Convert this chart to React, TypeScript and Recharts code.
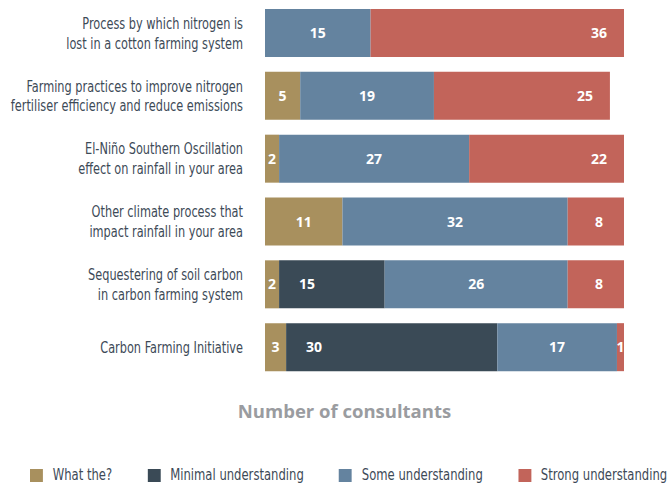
import React from 'react';
import { BarChart, Bar, XAxis, YAxis, Legend, LabelList } from 'recharts';

const categories = [
  'Process by which nitrogen is\nlost in a cotton farming system',
  'Farming practices to improve nitrogen\nfertiliser efficiency and reduce emissions',
  'El-Niño Southern Oscillation\neffect on rainfall in your area',
  'Other climate process that\nimpact rainfall in your area',
  'Sequestering of soil carbon\nin carbon farming system',
  'Carbon Farming Initiative',
];

const whatThe = [0, 5, 2, 11, 2, 3];
const minimal = [0, 0, 0, 0, 15, 30];
const some = [15, 19, 27, 32, 26, 17];
const strong = [36, 25, 22, 8, 8, 1];

const SERIES = [
  { key: 'whatThe', name: 'What the?', color: '#a8905e', values: whatThe },
  { key: 'minimal', name: 'Minimal understanding', color: '#3a4a56', values: minimal },
  { key: 'some', name: 'Some understanding', color: '#64839f', values: some },
  { key: 'strong', name: 'Strong understanding', color: '#c2645a', values: strong },
];

const data = categories.map((c, i) => ({
  category: c,
  whatThe: whatThe[i],
  minimal: minimal[i],
  some: some[i],
  strong: strong[i],
}));

// the source uses a very condensed face; squeeze DejaVu Condensed a bit more
const NARROW = "'DejaVu Sans Condensed', 'DejaVu Sans', sans-serif";
const TEXT = '#3d4a57';
const SQUEEZE = 0.84;

const CategoryTick = (props: any) => {
  const { x, y, payload } = props;
  const lines = String(payload.value).split('\n');
  const start = -((lines.length - 1) * 20) / 2;
  return (
    <g transform={`translate(${x},${y}) scale(${SQUEEZE},1)`}>
      <text x={0} y={0} textAnchor="end" fill={TEXT} fontFamily={NARROW} fontSize={15}>
        {lines.map((l, i) => (
          <tspan key={i} x={0} y={start + i * 20} dy="0.35em">
            {l}
          </tspan>
        ))}
      </text>
    </g>
  );
};

const makeLabel = (mode: string) => (props: any) => {
  const { x, y, width, height, value } = props;
  if (!value) return null;
  let cx = x + width / 2;
  if (mode === 'left') cx = x + 28;
  if (mode === 'right' && width > 50) cx = x + width - 25;
  return (
    <text
      x={cx}
      y={y + height / 2}
      dy="0.36em"
      textAnchor="middle"
      fill="#ffffff"
      fontFamily="'Open Sans', sans-serif"
      fontWeight={700}
      fontSize={14}
    >
      {value}
    </text>
  );
};

const LABEL_MODES: Record<string, string> = {
  whatThe: 'center',
  minimal: 'left',
  some: 'center',
  strong: 'right',
};

const LEG_SCALE = 0.86;

const renderLegend = () => (
  <div
    style={{
      height: 41,
      display: 'flex',
      alignItems: 'flex-end',
      paddingLeft: 30,
      boxSizing: 'border-box',
      paddingBottom: 0,
      whiteSpace: 'nowrap',
    }}
  >
    <div
      style={{
        display: 'flex',
        transform: `scaleX(${LEG_SCALE})`,
        transformOrigin: 'left center',
      }}
    >
      {SERIES.map((s) => (
        <div key={s.key} style={{ display: 'flex', alignItems: 'center', marginRight: 41 }}>
          <div style={{ width: 15, height: 13, background: s.color, marginRight: 11.5, flexShrink: 0 }} />
          <span style={{ fontFamily: NARROW, fontSize: 15, color: TEXT, lineHeight: '18px' }}>{s.name}</span>
        </div>
      ))}
    </div>
  </div>
);

export default function App() {
  return (
    <div style={{ position: 'absolute', left: 0, top: 0, width: 667, height: 484, background: '#fff' }}>
      <BarChart
        width={667}
        height={484}
        data={data}
        layout="vertical"
        margin={{ top: 2, right: 43, bottom: 0, left: 0 }}
        barSize={48}
      >
        <XAxis
          type="number"
          domain={[0, 51]}
          tick={false}
          axisLine={false}
          tickLine={false}
          height={64}
          label={{
            value: 'Number of consultants',
            position: 'center',
            dx: -100,
            fill: '#9a9ca0',
            fontFamily: "'Open Sans', sans-serif",
            fontWeight: 700,
            fontSize: 18.5,
          }}
        />
        <YAxis
          type="category"
          dataKey="category"
          width={265}
          axisLine={false}
          tickLine={false}
          tickMargin={16}
          interval={0}
          tick={<CategoryTick />}
        />
        <Legend verticalAlign="bottom" content={renderLegend} />
        {SERIES.map((s) => (
          <Bar key={s.key} dataKey={s.key} name={s.name} stackId="a" fill={s.color} isAnimationActive={false}>
            <LabelList dataKey={s.key} content={makeLabel(LABEL_MODES[s.key])} />
          </Bar>
        ))}
      </BarChart>
    </div>
  );
}
